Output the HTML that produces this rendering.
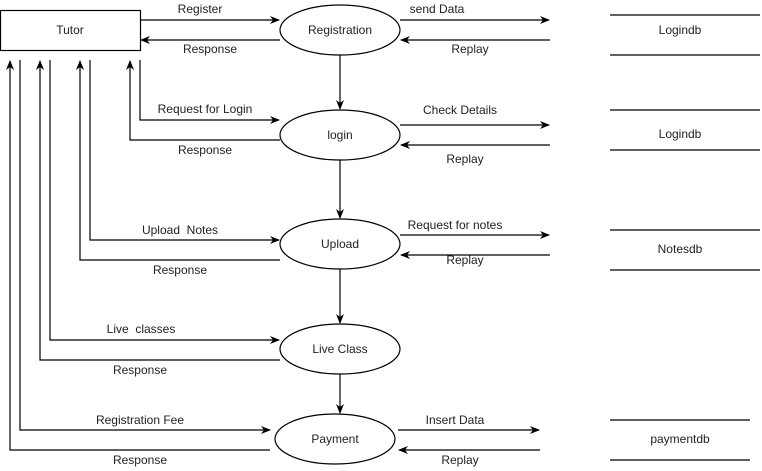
<!DOCTYPE html>
<html><head><style>html,body{margin:0;padding:0;background:#fff}svg{display:block}text{font-family:"Liberation Sans",Arial,sans-serif;font-size:12px;fill:#222;white-space:pre}</style></head>
<body>
<svg width="762" height="471" viewBox="0 0 762 471" xmlns="http://www.w3.org/2000/svg">
<defs><marker id="a" markerWidth="10" markerHeight="8" refX="9" refY="4" orient="auto" markerUnits="userSpaceOnUse"><path d="M0,0 L10,4 L0,8 L3,4 Z" fill="#000"/></marker></defs>
<g fill="none" stroke="#000" stroke-width="1.2">
<rect x="0.5" y="10.5" width="140" height="40" fill="#fff"/>
<ellipse cx="340" cy="30" rx="60" ry="25"/>
<ellipse cx="340" cy="135" rx="60" ry="25"/>
<ellipse cx="340" cy="244" rx="60" ry="25"/>
<ellipse cx="340" cy="349" rx="60" ry="25"/>
<ellipse cx="335" cy="439" rx="60" ry="25"/>
<path d="M140,20 H279" marker-end="url(#a)"/>
<path d="M280,40 H141" marker-end="url(#a)"/>
<path d="M140,60 V120 H279" marker-end="url(#a)"/>
<path d="M280,140 H130 V61" marker-end="url(#a)"/>
<path d="M90,60 V240 H279" marker-end="url(#a)"/>
<path d="M280,260 H80 V61" marker-end="url(#a)"/>
<path d="M50,60 V340 H279" marker-end="url(#a)"/>
<path d="M280,360 H40 V61" marker-end="url(#a)"/>
<path d="M20,60 V430 H270" marker-end="url(#a)"/>
<path d="M270,450 H10 V61" marker-end="url(#a)"/>
<path d="M340,55 V109" marker-end="url(#a)"/>
<path d="M340,160 V218" marker-end="url(#a)"/>
<path d="M340,269 V323" marker-end="url(#a)"/>
<path d="M340,374 V413" marker-end="url(#a)"/>
<path d="M400,20 H549" marker-end="url(#a)"/>
<path d="M550,40 H401" marker-end="url(#a)"/>
<path d="M400,125 H549" marker-end="url(#a)"/>
<path d="M550,145 H401" marker-end="url(#a)"/>
<path d="M400,235 H549" marker-end="url(#a)"/>
<path d="M550,255 H401" marker-end="url(#a)"/>
<path d="M398,430 H539" marker-end="url(#a)"/>
<path d="M540,450 H399" marker-end="url(#a)"/>
<path d="M610,15 H760 M610,55 H760 M610,110 H760 M610,150 H760 M610,230 H760 M610,270 H760 M610,420 H750 M610,460 H750"/>
</g>
<g text-anchor="middle">
<text x="70" y="34">Tutor</text>
<text x="340" y="34">Registration</text>
<text x="340" y="139">login</text>
<text x="340" y="248">Upload</text>
<text x="340" y="353">Live Class</text>
<text x="335" y="443">Payment</text>
<text x="200" y="13">Register</text>
<text x="210" y="53">Response</text>
<text x="205" y="113">Request for Login</text>
<text x="205" y="154">Response</text>
<text x="180" y="234">Upload&#160; Notes</text>
<text x="180" y="274">Response</text>
<text x="141" y="333">Live&#160; classes</text>
<text x="140" y="374">Response</text>
<text x="140" y="424">Registration Fee</text>
<text x="140" y="464">Response</text>
<text x="437" y="13">send Data</text>
<text x="470" y="53">Replay</text>
<text x="460" y="114">Check Details</text>
<text x="465" y="163">Replay</text>
<text x="455" y="229">Request for notes</text>
<text x="465" y="264">Replay</text>
<text x="455" y="424">Insert Data</text>
<text x="460" y="464">Replay</text>
<text x="680" y="34">Logindb</text>
<text x="680" y="138">Logindb</text>
<text x="680" y="253">Notesdb</text>
<text x="680" y="443">paymentdb</text>
</g>
</svg>
</body></html>
